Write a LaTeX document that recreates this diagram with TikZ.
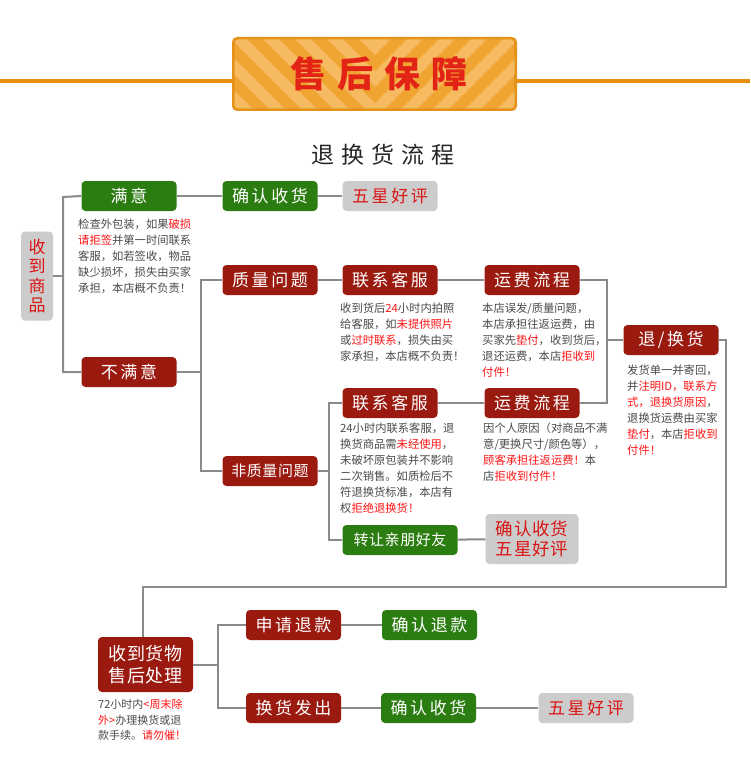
\documentclass[tikz,border=0pt]{standalone}
\usepackage{fontspec}
\setmainfont{Noto Sans CJK SC}
\newfontfamily\lblfont[LetterSpace=15]{Noto Sans CJK SC}
\newfontfamily\lblfontb[LetterSpace=4]{Noto Sans CJK SC}
\newfontfamily\ttlfont[LetterSpace=30]{Noto Sans CJK SC}
\newfontfamily\hdfont[LetterSpace=30]{Noto Sans CJK SC}
\definecolor{cgreen}{HTML}{2C7D11}
\definecolor{cdred}{HTML}{9B1A10}
\definecolor{cgray}{HTML}{CCCCCC}
\definecolor{cred}{HTML}{DC1414}
\definecolor{chl}{HTML}{FF1414}
\definecolor{ctext}{HTML}{4A4A4A}
\definecolor{cline}{HTML}{8A8A8A}
\definecolor{corange}{HTML}{E8900E}
\definecolor{hdborder}{HTML}{E5921A}
\definecolor{hdbase}{HTML}{F0A431}
\definecolor{hdstripe}{HTML}{F6BA60}
\definecolor{hdtext}{HTML}{E42317}
\newcommand\hlred[1]{\textcolor{chl}{#1}}
\begin{document}
\begin{tikzpicture}[x=1pt,y=-1pt,
  box/.style={rounded corners=4pt, minimum width=95pt, minimum height=30pt, inner sep=0pt, font=\fontsize{17}{20}\lblfont, align=center},
  gbox/.style={box, fill=cgreen, text=white},
  rbox/.style={box, fill=cdred, text=white},
  ybox/.style={box, fill=cgray, text=cred},
  smalllbl/.style={font=\fontsize{15}{18}\lblfontb},
  desc/.style={anchor=north west, inner sep=0pt, align=left, text=ctext, font=\fontsize{11.3}{16}\selectfont},
  conn/.style={draw=cline, line width=2pt}]
\useasboundingbox (0,0) rectangle (750,762);
\fill[white] (0,0) rectangle (750,762);

% header
\draw[corange, line width=4pt] (0,81) -- (232,81);
\draw[corange, line width=4pt] (517,81) -- (750,81);
\fill[hdborder, rounded corners=5pt] (232,37) rectangle (517,111);
\begin{scope}
  \clip[rounded corners=4pt] (234.5,39.5) rectangle (514.5,108.5);
  \fill[hdbase] (234,39) rectangle (515,109);
  \foreach \k in {-3,...,7} {
    \draw[hdstripe, line width=11pt] ({375-200},{111+\k*32-200}) -- (375,{111+\k*32}) -- ({375+200},{111+\k*32-200});
  }
\end{scope}
\node[text=hdtext, font=\fontsize{36}{40}\hdfont\bfseries] (hdr) at (379,74) {售后保障};
\node[text=black!85, font=\fontsize{23}{26}\ttlfont] (title) at (383,155) {退换货流程};

% nodes
\node[box, fill=cgray, text=cred, minimum width=32pt, minimum height=89pt, font=\fontsize{17}{19.5}\selectfont] (sp) at (37,276) {收\\到\\商\\品};
\node[gbox] (manyi) at (129,196) {满意};
\node[gbox] (qr1) at (270,196) {确认收货};
\node[ybox] (wx1) at (390,196) {五星好评};
\node[rbox] (bmy) at (129,372) {不满意};
\node[rbox] (zl) at (270,280) {质量问题};
\node[rbox, smalllbl] (fzl) at (270,471) {非质量问题};
\node[rbox] (lx1) at (390,280) {联系客服};
\node[rbox] (yf1) at (532,280) {运费流程};
\node[rbox] (th) at (671,340) {退/换货};
\node[rbox] (lx2) at (390,403) {联系客服};
\node[rbox] (yf2) at (532,403) {运费流程};
\node[gbox, smalllbl, minimum width=115pt] (zr) at (400,540) {转让亲朋好友};
\node[ybox, minimum width=93pt, minimum height=50pt, font=\fontsize{17.5}{19.5}\lblfontb] (qr2) at (532,539) {确认收货\\五星好评};
\node[rbox, minimum height=55pt, font=\fontsize{18}{22}\lblfontb] (sh) at (145.5,664.5) {收到货物\\售后处理};
\node[rbox] (sq) at (293.5,625) {申请退款};
\node[rbox] (hh) at (293.5,708) {换货发出};
\node[gbox] (qrtk) at (429.5,625) {确认退款};
\node[gbox] (qrsh) at (428.5,708) {确认收货};
\node[ybox] (wx3) at (586,708) {五星好评};

% descriptions
\node[desc] (d1) at (78,219) {检查外包装，如果\hlred{破损}\\\hlred{请拒签}并第一时间联系\\客服，如若签收，物品\\缺少损坏，损失由买家\\承担，本店概不负责！};
\node[desc] (d2) at (340,303) {收到货后\hlred{24}小时内拍照\\给客服，如\hlred{未提供照片}\\或\hlred{过时联系}，损失由买\\家承担，本店概不负责！};
\node[desc] (d3) at (482,303) {本店误发/质量问题，\\本店承担往返运费，由\\买家先\hlred{垫付}，收到货后，\\退还运费，本店\hlred{拒收到}\\\hlred{付件！}};
\node[desc] (d4) at (627,365) {发货单一并寄回，\\并\hlred{注明ID，联系方}\\\hlred{式，退换货原因}，\\退换货运费由买家\\\hlred{垫付}，本店\hlred{拒收到}\\\hlred{付件！}};
\node[desc] (d5) at (340,423) {24小时内联系客服，退\\换货商品需\hlred{未经使用}，\\未破坏原包装并不影响\\二次销售。如质检后不\\符退换货标准，本店有\\权\hlred{拒绝退换货！}};
\node[desc] (d6) at (483,423) {因个人原因（对商品不满\\意/更换尺寸/颜色等），\\\hlred{顾客承担往返运费！}本\\店\hlred{拒收到付件！}};
\node[desc, font=\fontsize{11}{15.5}\selectfont] (d7) at (98,699) {72小时内\hlred{<周末除}\\\hlred{外>}办理换货或退\\款手续。\hlred{请勿催！}};

% connectors
\coordinate (t1) at (63,197);
\coordinate (t2) at (63,372);
\draw[conn] (sp.east) -- (sp.east -| t1);
\draw[conn] (manyi.west) -- (t1) -- (t2) -- (bmy.west);
\draw[conn] (manyi) -- (qr1);
\draw[conn] (qr1) -- (wx1);
\coordinate (t3) at (201,280);
\coordinate (t4) at (201,471);
\draw[conn] (bmy.east) -- (bmy.east -| t3);
\draw[conn] (zl.west) -- (t3) -- (t4) -- (fzl.west);
\draw[conn] (zl) -- (lx1);
\draw[conn] (lx1) -- (yf1);
\coordinate (t5) at (607,280);
\coordinate (t6) at (607,403);
\draw[conn] (yf1.east) -- (t5) -- (t6) -- (yf2.east);
\draw[conn] (th.west) -- (th.west -| t5);
\coordinate (t7) at (329,403);
\coordinate (t8) at (329,540);
\draw[conn] (fzl.east) -- (fzl.east -| t7);
\draw[conn] (lx2.west) -- (t7) -- (t8) -- (zr.west);
\draw[conn] (lx2) -- (yf2);
\draw[conn] (zr) -- (qr2);
\coordinate (t9) at (726,340);
\coordinate (t10) at (726,587);
\coordinate (t11) at (143,587);
\draw[conn] (th.east) -- (t9) -- (t10) -- (t11) -- (t11 |- sh.north);
\coordinate (t12) at (218,625);
\coordinate (t13) at (218,708);
\draw[conn] (sh.east) -- (sh.east -| t12);
\draw[conn] (sq.west) -- (t12) -- (t13) -- (hh.west);
\draw[conn] (sq) -- (qrtk);
\draw[conn] (hh) -- (qrsh);
\draw[conn] (qrsh) -- (wx3);
\end{tikzpicture}
\end{document}
